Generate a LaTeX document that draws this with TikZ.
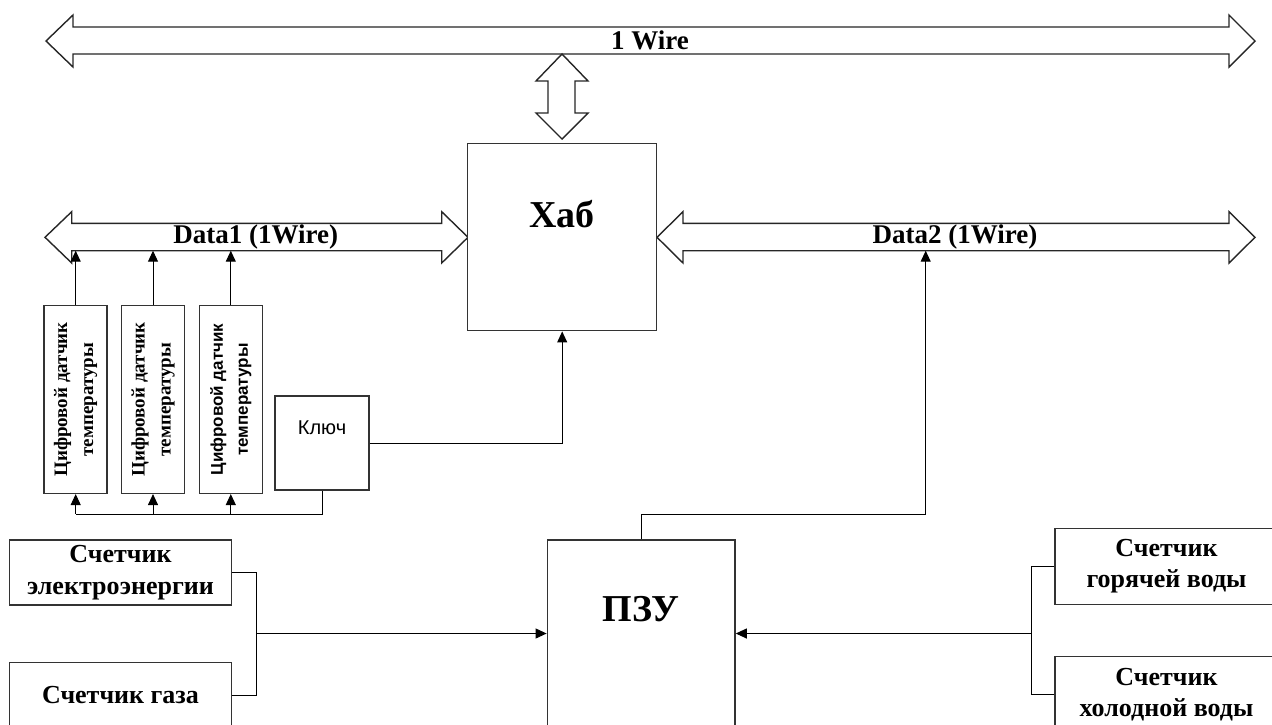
\documentclass[tikz,border=0pt]{standalone}
\usepackage{fontspec}
\setmainfont{Liberation Serif}
\setsansfont{Liberation Sans}
\usetikzlibrary{arrows.meta}

\begin{document}
\begin{tikzpicture}[x=1pt, y=-1pt,
  block/.style={draw=black!80, line width=1.5pt, fill=white, inner sep=2pt},
  bus/.style={draw=black!85, line width=1.4pt, fill=white, line join=miter},
  conn/.style={draw=black, line width=1pt},
  feed/.style={conn, -{Triangle[length=11pt,width=10pt]}},
  buslabel/.style={font=\fontsize{27}{30}\selectfont\bfseries, inner sep=0pt},
  bigtext/.style={font=\fontsize{38}{44}\selectfont\bfseries, inner sep=0pt},
  sensor/.style={block, minimum width=63pt, minimum height=187.6pt},
  sensortext/.style={rotate=90, align=center, inner sep=0pt, font=\fontsize{19}{26}\selectfont\bfseries},
  meter/.style={block, align=center, font=\fontsize{26}{31.6}\selectfont\bfseries, minimum width=222.4pt, minimum height=65pt}]
\useasboundingbox (0,0) rectangle (1272,724);
\clip (0,0) rectangle (1272,724);
\fill[white] (0,0) rectangle (1272,724);

% Main 1-Wire bus and its link to the hub
\draw[bus] (46,41) -- (73,15) -- (73,27) -- (1229,27) -- (1229,15) -- (1255,41)
  -- (1229,67) -- (1229,54) -- (73,54) -- (73,67) -- cycle;
\node[buslabel] (wirelbl) at (650,40.5) {1 Wire};
\draw[bus] (562,54) -- (536,81) -- (548,81) -- (548,113) -- (536,113) -- (562,139)
  -- (588,113) -- (575,113) -- (575,81) -- (588,81) -- cycle;

% Data buses left and right of the hub
\draw[bus] (45,237.3) -- (71.7,211.7) -- (71.7,223.3) -- (441.7,223.3) -- (441.7,211.7) -- (468,237.3)
  -- (441.7,263) -- (441.7,250.7) -- (71.7,250.7) -- (71.7,263) -- cycle;
\node[buslabel] (data1lbl) at (255.7,237) {Data1 (1Wire)};
\draw[bus] (657,237.3) -- (683,211.7) -- (683,223.3) -- (1229,223.3) -- (1229,211.7) -- (1255,237.3)
  -- (1229,263) -- (1229,250.7) -- (683,250.7) -- (683,263) -- cycle;
\node[buslabel] (data2lbl) at (955,237) {Data2 (1Wire)};
\coordinate (buslow) at (0,250.7);

% Hub
\node[block, minimum width=189pt, minimum height=187.4pt] (hub) at (562.2,237) {};
\node[bigtext] (hubtxt) at ([yshift=-72pt]hub.north) {Хаб};

% ROM
\node[block, minimum width=187.7pt, minimum height=187pt] (rom) at (641.2,633.5) {};
\node[bigtext] (romtxt) at ([yshift=-70pt]rom.north) {ПЗУ};

% Temperature sensors
\node[sensor] (sens1) at (75.7,399.5) {};
\node[sensortext] (sens1txt) at (sens1) {Цифровой датчик\\температуры};
\node[sensor] (sens2) at (153,399.5) {};
\node[sensortext] (sens2txt) at (sens2) {Цифровой датчик\\температуры};
\node[sensor] (sens3) at (230.8,399.5) {};
\node[sensortext, font=\fontsize{17}{25}\selectfont\sffamily\bfseries] (sens3txt) at (sens3) {Цифровой датчик\\температуры};

% Key
\node[block, minimum width=94pt, minimum height=94pt] (key) at (322,443) {};
\node[font=\fontsize{20}{23}\selectfont\sffamily, inner sep=0pt] (keytxt) at ([yshift=-32pt]key.north) {Ключ};

% Meters
\node[meter] (elec) at (120.5,572.5) {Счетчик\\электроэнергии};
\node[meter] (gas) at (120.5,695) {Счетчик газа};
\node[meter, minimum width=223pt, minimum height=76pt] (hot) at (1166.5,566.3) {Счетчик\\горячей воды};
\node[meter, minimum width=223pt, minimum height=76pt] (cold) at (1166.5,694.7) {Счетчик\\холодной воды};

% Sensors to Data1
\draw[feed] (sens1.north) -- (sens1.north |- buslow);
\draw[feed] (sens2.north) -- (sens2.north |- buslow);
\draw[feed] (sens3.north) -- (sens3.north |- buslow);

% Key to sensors and hub
\coordinate (sensbus) at (0,514);
\draw[conn] (key.south) -- (key.south |- sensbus) -- (sens1.south |- sensbus);
\draw[feed] (sens1.south |- sensbus) -- (sens1.south);
\draw[feed] (sens2.south |- sensbus) -- (sens2.south);
\draw[feed] (sens3.south |- sensbus) -- (sens3.south);
\draw[feed] (key.east) -| (hub.south);

% ROM to Data2
\coordinate (romup) at (925.7,514);
\draw[feed] (rom.north) |- (romup) -- (romup |- buslow);

% Meters to ROM
\coordinate (lfork) at (256.7,633.5);
\draw[conn] (elec.east) -| (lfork) |- (gas.east);
\draw[feed] (lfork) -- (rom.west);
\coordinate (rfork) at (1031.7,633.5);
\draw[conn] (hot.west) -| (rfork) |- (cold.west);
\draw[feed] (rfork) -- (rom.east);

\end{tikzpicture}
\end{document}
